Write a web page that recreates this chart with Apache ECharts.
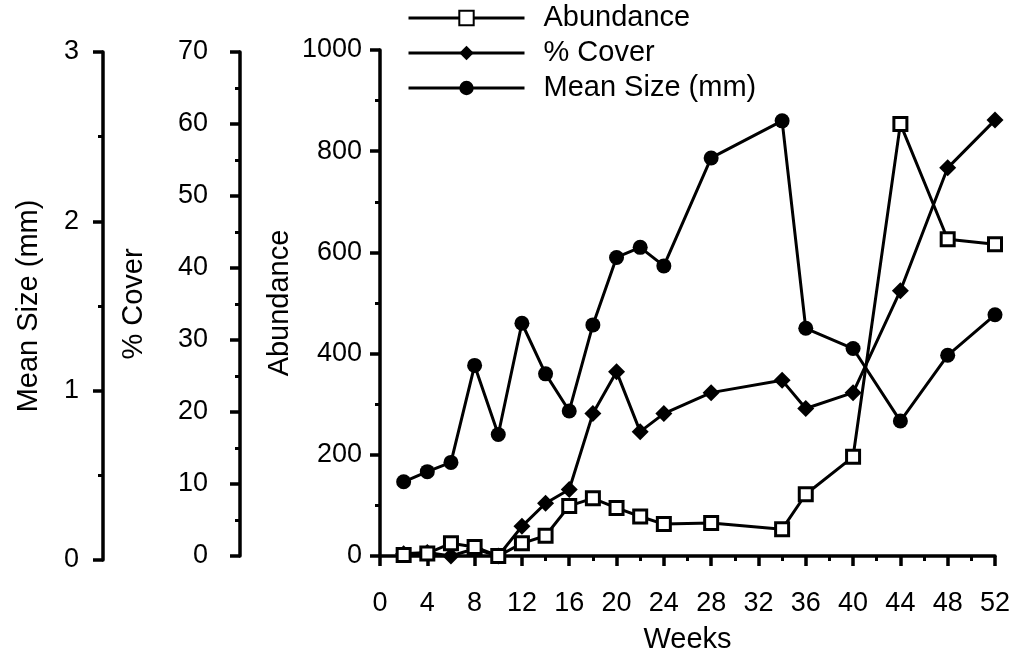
<!DOCTYPE html>
<html><head><meta charset="utf-8">
<script src="https://cdn.jsdelivr.net/npm/echarts@6/dist/echarts.min.js"></script>
<style>html,body{margin:0;padding:0;background:#fff}#c{width:1016px;height:651px}</style>
</head><body><div id="c"></div>
<script>
// ---- data ----
const weeks = [2,4,6,8,10,12,14,16,18,20,22,24,28,34,36,40,44,48,52];
const abundance = [2,5,25,18,0,25,40,99,114,95,78,63,65,53,122,196,854,626,616];
const cover = [0.3,0.5,0,1,0,4.1,7.3,9.2,19.7,25.5,17.2,19.7,22.6,24.3,20.4,22.6,36.7,53.7,60.3];
const meanSize = [0.44,0.50,0.555,1.13,0.72,1.38,1.08,0.86,1.37,1.77,1.83,1.72,2.36,2.58,1.35,1.23,0.80,1.19,1.43];
const seriesNames = ['Abundance','% Cover','Mean Size (mm)'];
const axisNames = ['Abundance','% Cover','Mean Size (mm)','Weeks'];

const tickFont = "'Liberation Sans',sans-serif";
const textFont = "'Liberation Sans',sans-serif";
const pairs = vals => weeks.map((w,i)=>[w, vals[i]]);

const axisLine = {show:true, onZero:false, lineStyle:{color:'#000', width:3.5}};
const axisTick = {show:true, length:10, lineStyle:{color:'#000', width:3.5}};
const minorTick = {show:true, splitNumber:2, length:5, lineStyle:{color:'#000', width:3}};
const label = m => ({margin:m, fontSize:27, color:'#000', fontFamily:tickFont, formatter:v=>String(v)});
const nameStyle = {fontSize:29, color:'#000', fontFamily:textFont};

const chart = echarts.init(document.getElementById('c'), null, {renderer:'canvas'});
chart.setOption({
  animation:false,
  backgroundColor:'#fff',
  legend:{
    orient:'vertical', left:407, top:3, padding:0,
    itemWidth:116, itemHeight:18, itemGap:5,
    data:seriesNames,
    lineStyle:{width:3, color:'#000'},
    textStyle:{fontSize:29, color:'#000', fontFamily:textFont, lineHeight:30, padding:[0,0,0,14]}
  },
  grid:[
    {left:380, right:21, top:50, bottom:95, outerBoundsMode:'none', containLabel:false},
    {left:240, width:20, top:52, bottom:95, outerBoundsMode:'none', containLabel:false},
    {left:103, width:20, top:52, bottom:91, outerBoundsMode:'none', containLabel:false}
  ],
  xAxis:[
    {type:'value', gridIndex:0, min:0, max:52, interval:4,
     axisLine:axisLine, axisTick:axisTick, minorTick:minorTick,
     splitLine:{show:false}, minorSplitLine:{show:false},
     axisLabel:label(34),
     name:axisNames[3], nameLocation:'middle', nameGap:69, nameMoveOverlap:false, nameTextStyle:nameStyle},
    {type:'value', gridIndex:1, show:false, min:0, max:1},
    {type:'value', gridIndex:2, show:false, min:0, max:1}
  ],
  yAxis:[
    {type:'value', gridIndex:0, min:0, max:1000, interval:200,
     axisLine:axisLine, axisTick:axisTick, minorTick:minorTick,
     splitLine:{show:false}, axisLabel:label(18),
     name:axisNames[0], nameLocation:'middle', nameGap:86, nameMoveOverlap:false, nameTextStyle:nameStyle},
    {type:'value', gridIndex:0, min:0, max:70, show:false},
    {type:'value', gridIndex:0, min:0, max:3, show:false},
    {type:'value', gridIndex:1, min:0, max:70, interval:10,
     axisLine:axisLine, axisTick:axisTick, minorTick:minorTick,
     splitLine:{show:false}, axisLabel:label(32),
     name:axisNames[1], nameLocation:'middle', nameGap:92, nameMoveOverlap:false, nameTextStyle:nameStyle},
    {type:'value', gridIndex:2, min:0, max:3, interval:1,
     axisLine:axisLine, axisTick:axisTick, minorTick:minorTick,
     splitLine:{show:false}, axisLabel:label(24),
     name:axisNames[2], nameLocation:'middle', nameGap:60, nameMoveOverlap:false, nameTextStyle:nameStyle}
  ],
  series:[
    {name:seriesNames[0], type:'line', xAxisIndex:0, yAxisIndex:0, data:pairs(abundance),
     symbol:'rect', symbolSize:13, z:3,
     lineStyle:{color:'#000', width:3},
     itemStyle:{color:'#fff', borderColor:'#000', borderWidth:3}},
    {name:seriesNames[1], type:'line', xAxisIndex:0, yAxisIndex:1, data:pairs(cover),
     symbol:'diamond', symbolSize:17, z:2,
     lineStyle:{color:'#000', width:3},
     itemStyle:{color:'#000'}},
    {name:seriesNames[2], type:'line', xAxisIndex:0, yAxisIndex:2, data:pairs(meanSize),
     symbol:'circle', symbolSize:15, z:2,
     lineStyle:{color:'#000', width:3},
     itemStyle:{color:'#000'}}
  ]
});
</script>
</body></html>
